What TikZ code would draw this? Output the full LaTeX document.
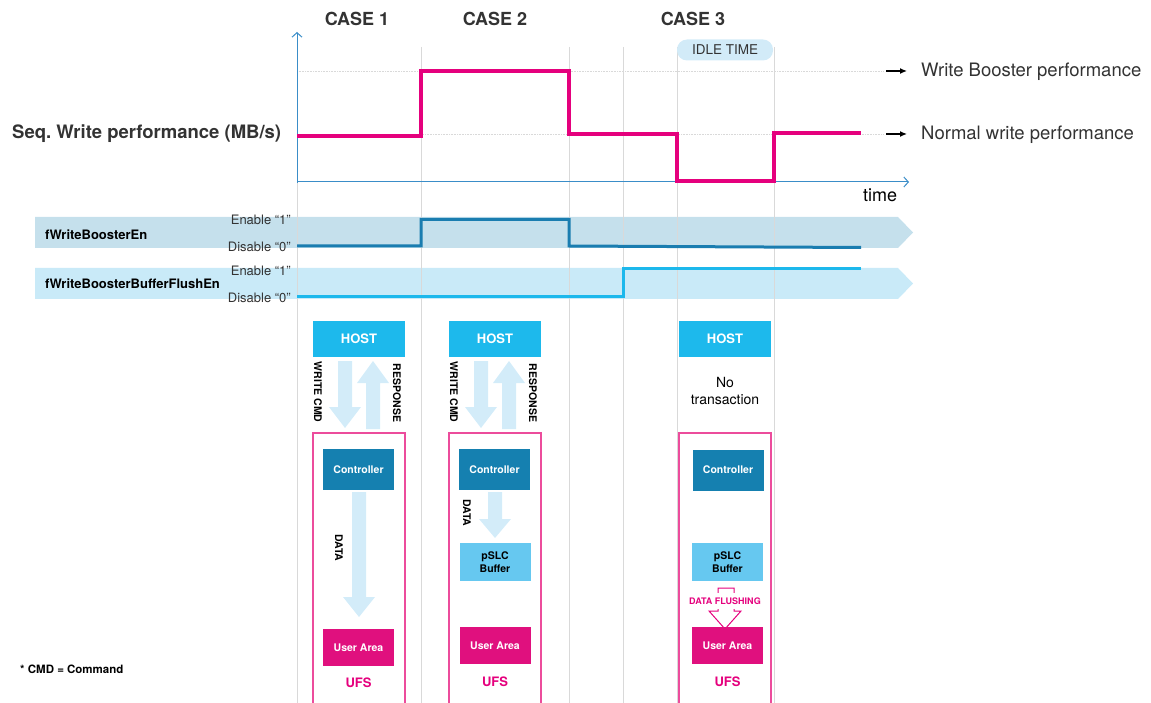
\documentclass[tikz,border=0pt]{standalone}
\usepackage{fontspec}
\setmainfont{TeX Gyre Heros}
\usetikzlibrary{arrows.meta}
\frenchspacing

\definecolor{wbpink}{HTML}{E5007D}
\definecolor{framepink}{HTML}{EC4C9C}
\definecolor{userpink}{HTML}{E0107E}
\definecolor{axisblue}{HTML}{3A8DC8}
\definecolor{bandone}{HTML}{C5E0EC}
\definecolor{bandtwo}{HTML}{C9EAF8}
\definecolor{sigdark}{HTML}{1A7DB0}
\definecolor{siglight}{HTML}{1CB8EC}
\definecolor{hostcyan}{HTML}{1DB9EC}
\definecolor{ctrlblue}{HTML}{1580B0}
\definecolor{slcblue}{HTML}{66C8F0}
\definecolor{blockblue}{HTML}{D3ECF9}
\definecolor{idleblue}{HTML}{D2EBF8}
\definecolor{gridgray}{HTML}{D9D9D9}
\definecolor{darktext}{HTML}{333333}

% block arrow: centre x, tail y, head base y, tip y
\newcommand{\blockarrow}[4]{%
  \fill[blockblue] (#1-7,#2) -- (#1+7,#2) -- (#1+7,#3) -- (#1+16,#3)
    -- (#1,#4) -- (#1-16,#3) -- (#1-7,#3) -- cycle;}

\tikzset{
  gridline/.style={draw=gridgray, line width=0.9pt},
  levelline/.style={draw=gridgray, line width=0.6pt, densely dotted},
  perf/.style={draw=wbpink, line width=3.5pt},
  sigone/.style={draw=sigdark, line width=3pt},
  sigtwo/.style={draw=siglight, line width=3pt},
  casetitle/.style={text=darktext, font=\fontsize{18}{20}\selectfont\bfseries},
  perflabel/.style={text=darktext, inner sep=0pt, font=\fontsize{18.5}{20}\selectfont},
  bandname/.style={text=black, anchor=west, inner sep=0pt, font=\fontsize{13}{15}\selectfont\bfseries},
  levellabel/.style={text=darktext, anchor=east, inner sep=0pt, font=\fontsize{13}{15}\selectfont},
  hostbox/.style={fill=hostcyan, text=white, minimum width=92pt, minimum height=36pt,
    inner sep=0pt, font=\fontsize{13}{15}\selectfont\bfseries},
  ctrlbox/.style={fill=ctrlblue, text=white, minimum width=71pt, minimum height=41pt,
    inner sep=0pt, font=\fontsize{10.5}{12}\selectfont\bfseries},
  slcbox/.style={fill=slcblue, text=black, minimum width=71pt, minimum height=38pt,
    inner sep=0pt, align=center, font=\fontsize{10.5}{12.5}\selectfont\bfseries},
  userbox/.style={fill=userpink, text=white, minimum width=71pt, minimum height=37pt,
    inner sep=0pt, font=\fontsize{10.5}{12}\selectfont\bfseries},
  ufsframe/.style={draw=framepink, line width=1.2pt},
  ufslabel/.style={text=wbpink, font=\fontsize{13}{15}\selectfont\bfseries},
  vlabel/.style={rotate=-90, text=black, inner sep=0pt, font=\fontsize{10.5}{12}\selectfont\bfseries},
  pointer/.style={-{Latex[length=7pt,width=6pt]}, line width=1.3pt, shorten >=14pt},
  axisline/.style={draw=axisblue, line width=1pt, -{Straight Barb[length=4.5pt,width=10pt]}},
}

\begin{document}
\begin{tikzpicture}[x=1pt,y=-1pt]
  \useasboundingbox (0,0) rectangle (1151,703);

  % signal bands
  \fill[bandone] (35,217) -- (898,217) -- (913,232.5) -- (898,248) -- (35,248) -- cycle;
  \fill[bandtwo] (35,268) -- (898,268) -- (913,283.5) -- (898,299) -- (35,299) -- cycle;

  % grid
  \draw[gridline] (297,183) -- (297,703);
  \foreach \gx in {421,569,623,677,774}
    \draw[gridline] (\gx,47) -- (\gx,703);
  \draw[levelline] (297,71) -- (884,71);
  \draw[levelline] (297,134) -- (884,134);

  % axes
  \draw[axisline] (297,183) -- (297,32);
  \draw[axisline] (297,182) -- (909,182);
  \node (timelabel) at (880,195) {\fontsize{18}{20}\selectfont time};

  % performance curve
  \draw[perf] (297,136) -- (421,136) -- (421,71) -- (569,71) -- (569,134) -- (677,134)
    -- (677,181) -- (774,181) -- (774,133) -- (861,133);

  % flag signals
  \draw[sigone] (297,246) -- (421,246) -- (421,219.5) -- (569,219.5) -- (569,246) -- (861,247.5);
  \draw[sigtwo] (297,297) -- (623,297) -- (623,268.5) -- (861,268.5);

  \node[perflabel, anchor=west] (wblabel) at (921,72) {Write Booster performance};
  \node[perflabel, anchor=west] (nwlabel) at (921,135) {Normal write performance};
  \coordinate (wbstart) at (886,71);
  \coordinate (nwstart) at (886,134);
  \draw[pointer] (wbstart) -- (wblabel.west |- wbstart);
  \draw[pointer] (nwstart) -- (nwlabel.west |- nwstart);

  \node[anchor=west, inner sep=0pt, text=darktext] (ylabel) at (12,134)
    {\fontsize{18.5}{20}\selectfont\bfseries Seq. Write performance (MB/s)};

  \node[casetitle] (case1) at (357,19) {CASE 1};
  \node[casetitle] (case2) at (495,19) {CASE 2};
  \node[casetitle] (case3) at (693,19) {CASE 3};
  \node[fill=idleblue, rounded corners=10pt, minimum width=96pt, minimum height=21pt,
    inner sep=0pt, text=darktext, font=\fontsize{13.5}{15}\selectfont] (idle) at (725,50) {IDLE TIME};

  \node[bandname] (wben) at (45,235) {fWriteBoosterEn};
  \node[bandname] (flushen) at (45,284) {fWriteBoosterBufferFlushEn};
  \node[levellabel] (en1) at (291,220) {Enable “1"};
  \node[levellabel] (dis1) at (291,246.5) {Disable “0”};
  \node[levellabel] (en2) at (291,271) {Enable “1"};
  \node[levellabel] (dis2) at (291,298) {Disable “0”};

  % case 1 and case 2 columns
  \foreach \cx/\nm in {313/a,449/b}{
    \node[hostbox] (host\nm) at (\cx+46,338.5) {HOST};
    \blockarrow{\cx+32}{361}{407}{428}
    \blockarrow{\cx+60}{429}{383}{361}
    \node[vlabel] (cmd\nm) at (\cx+5,392) {WRITE CMD};
    \node[vlabel] (resp\nm) at (\cx+84,393) {RESPONSE};
    \draw[ufsframe] (\cx,706) -- (\cx,433) -- (\cx+92,433) -- (\cx+92,706);
    \node[ctrlbox] (ctrl\nm) at (\cx+45.5,469.5) {Controller};
  }

  % case 1: straight to user area
  \blockarrow{359}{492}{597}{617}
  \node[vlabel] (data1) at (339,548) {DATA};
  \node[userbox] (usera) at (358.5,647.5) {User Area};
  \node[ufslabel] (ufsa) at (358.5,683) {UFS};

  % case 2: into the pSLC buffer
  \blockarrow{495}{492}{519}{538}
  \node[vlabel] (data2) at (467,513) {DATA};
  \node[slcbox] (slcb) at (495,562) {pSLC\\Buffer};
  \node[userbox] (userb) at (495,645.5) {User Area};
  \node[ufslabel] (ufsb) at (495,682) {UFS};

  % case 3: flushing while idle
  \node[hostbox] (hostc) at (725,339) {HOST};
  \node[align=center, text=black, font=\fontsize{14}{17}\selectfont] (notrans) at (725,391.5) {No\\transaction};
  \draw[ufsframe] (679,706) -- (679,433) -- (771,433) -- (771,706);
  \node[ctrlbox] (ctrlc) at (728,470) {Controller};
  \node[slcbox] (slcc) at (727.5,562) {pSLC\\Buffer};
  \draw[draw=wbpink, line width=1pt] (718,611) -- (718,588) -- (734,588) -- (734,611)
    -- (741,611) -- (725,629) -- (709,611) -- cycle;
  \node[fill=white, inner xsep=1pt, inner ysep=0pt, minimum height=16pt, text=wbpink,
    font=\fontsize{9}{10}\selectfont\bfseries] (flush) at (725,601) {DATA FLUSHING};
  \node[userbox] (userc) at (727.5,645.5) {User Area};
  \node[ufslabel] (ufsc) at (727.5,682) {UFS};

  \node[anchor=west, inner sep=0pt, font=\fontsize{11.5}{13}\selectfont\bfseries] (cmdnote) at (20,669) {* CMD = Command};
\end{tikzpicture}
\end{document}
